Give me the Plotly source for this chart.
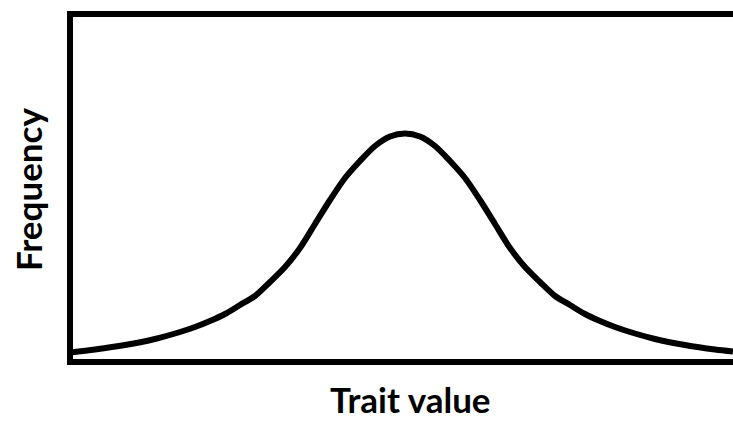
import plotly.graph_objects as go

# Curve (x: trait value, y: frequency, arbitrary units)
trait_value = [0, 25, 55, 85, 110, 125, 140, 155, 170, 185, 200, 215, 230, 245,
               260, 275, 290, 305, 320, 335,
               350, 365, 380, 395, 410, 425, 440, 455, 470, 485, 500, 515, 530,
               545, 560, 585, 615, 645, 663]
frequency = [9.5, 12.5, 17, 23, 30, 35, 41, 48, 57, 66, 80, 95, 114, 138,
             162, 184, 201, 216, 225.5, 228.5,
             225.5, 216, 201, 184, 162, 138, 114, 95, 80, 66, 57, 48, 41,
             35, 30, 23, 17, 12.5, 10.5]

x_title = "Trait value"
y_title = "Frequency"

fig = go.Figure(go.Scatter(
    x=trait_value, y=frequency, mode="lines",
    line=dict(color="black", width=6, shape="spline", smoothing=0.8),
    hoverinfo="skip", showlegend=False,
))

font_family = "Lato, 'Open Sans', sans-serif"
axis_common = dict(showline=False, showticklabels=False, ticks="",
                   showgrid=False, zeroline=False, automargin=False)

fig.update_layout(
    width=733, height=421,
    margin=dict(l=70, r=0, t=14, b=59, autoexpand=False),
    paper_bgcolor="white", plot_bgcolor="white",
    xaxis=dict(range=[0, 663], **axis_common),
    yaxis=dict(range=[0, 348], **axis_common),
    shapes=[dict(type="path", xref="paper", yref="paper",
                 path="M 1.02,1 L 0,1 L 0,0 L 1.02,0",
                 line=dict(color="black", width=6))],
    annotations=[
        dict(text=f"<b>{x_title}</b>", xref="x", yref="paper", x=340,
             y=-0.105, xanchor="center", yanchor="middle", showarrow=False,
             borderpad=0,
             font=dict(family=font_family, size=35, color="black")),
        dict(text=f"<b>{y_title}</b>", xref="paper", yref="paper", x=-0.0633,
             y=0.497, xanchor="center", yanchor="middle", showarrow=False,
             textangle=-90, borderpad=0,
             font=dict(family=font_family, size=35, color="black")),
    ],
)

fig.write_html(
    "out.html",
    config={"displayModeBar": False, "staticPlot": True},
    post_script="document.body.style.margin='0';"
                "document.documentElement.style.overflow='hidden';",
)
